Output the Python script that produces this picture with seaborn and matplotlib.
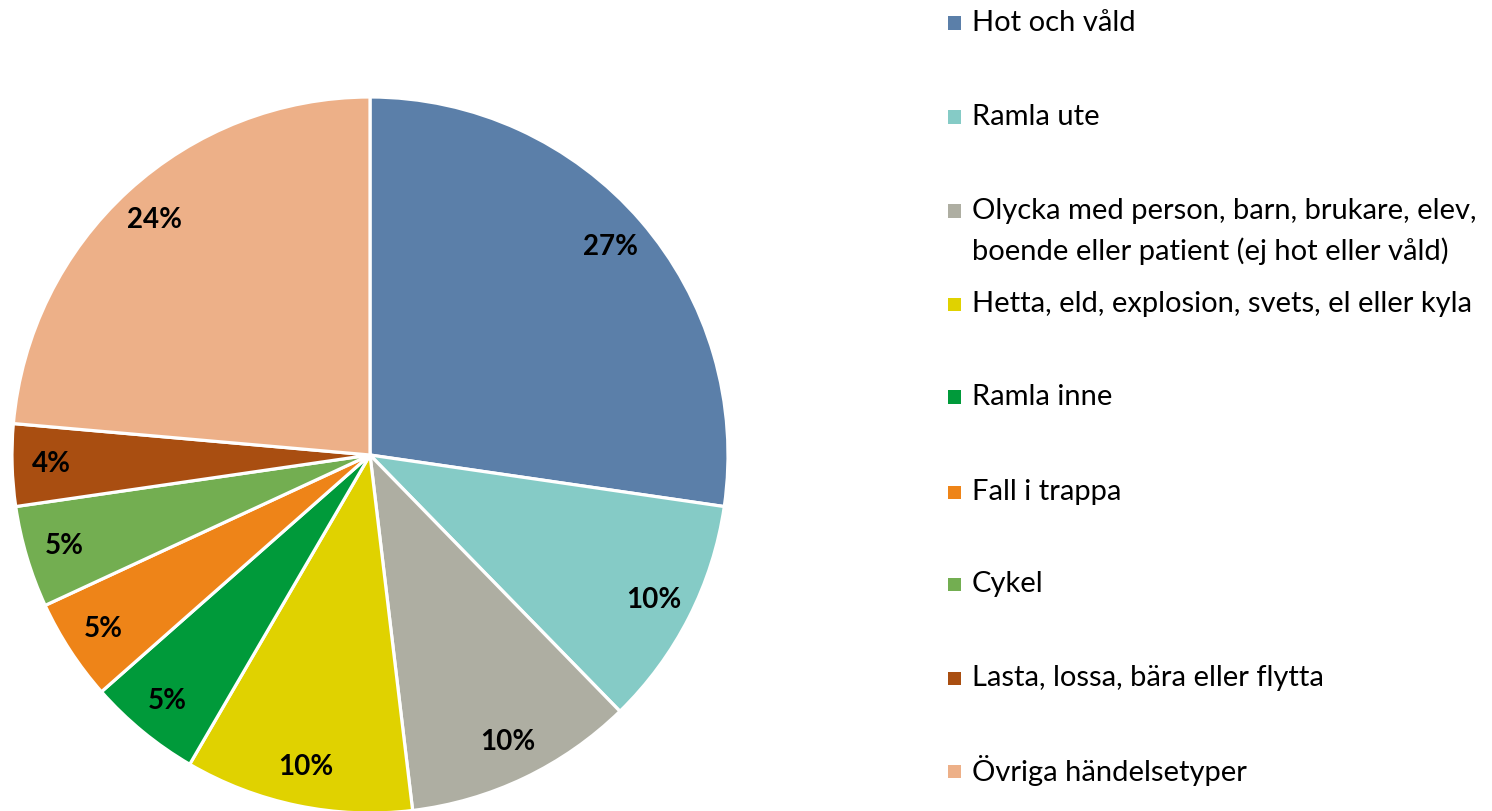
import matplotlib
matplotlib.use("Agg")
import matplotlib.pyplot as plt
import seaborn as sns

# Share of reported incidents by event type (percent)
categories = [
    "Hot och våld",
    "Ramla ute",
    "Olycka med person, barn, brukare, elev,\nboende eller patient (ej hot eller våld)",
    "Hetta, eld, explosion, svets, el eller kyla",
    "Ramla inne",
    "Fall i trappa",
    "Cykel",
    "Lasta, lossa, bära eller flytta",
    "Övriga händelsetyper",
]
shares = [27.3, 10.4, 10.4, 10.3, 5.1, 4.6, 4.6, 3.7, 23.6]
colors = ["#5B7FA9", "#85CBC6", "#AEAEA2", "#E0D200", "#009A3A",
          "#EE8418", "#73AE51", "#A94E11", "#EDB088"]

sns.set_theme(style="white")
plt.rcParams["font.family"] = ["Lato", "DejaVu Sans"]

W, H = 1492, 811
fig = plt.figure(figsize=(W / 100, H / 100), dpi=100)

# pie: centre (370, 455) px from top-left, radius 358 px
cx, cy, r = 370, 455, 358
ax = fig.add_axes([(cx - r) / W, (H - cy - r) / H, 2 * r / W, 2 * r / H])
wedges, texts, autotexts = ax.pie(
    shares,
    colors=colors,
    startangle=90,
    counterclock=False,
    autopct=lambda p: f"{round(p):d}%",
    pctdistance=0.89,
    wedgeprops=dict(edgecolor="white", linewidth=2.3),
    textprops=dict(fontsize=20, fontweight="bold", color="black"),
)
ax.set_xlim(-1, 1)
ax.set_ylim(-1, 1)
ax.set_aspect("equal")
ax.axis("off")
for w in wedges:
    w.set_clip_on(False)

# legend drawn as a column of swatches and labels
ys = [23, 117, 211, 304, 397, 492, 584, 678, 771]
sq = 13
for y, lab, c in zip(ys, categories, colors):
    fig.patches.append(plt.Rectangle((948 / W, (H - y - sq / 2) / H), sq / W, sq / H,
                                     transform=fig.transFigure, facecolor=c,
                                     edgecolor="none"))
    lines = lab.split("\n")
    for k, line in enumerate(lines):
        fig.text(972 / W, (H - (y + k * 40)) / H, line, fontsize=21,
                 ha="left", va="center", color="black")

fig.savefig("out.png", dpi=100)
